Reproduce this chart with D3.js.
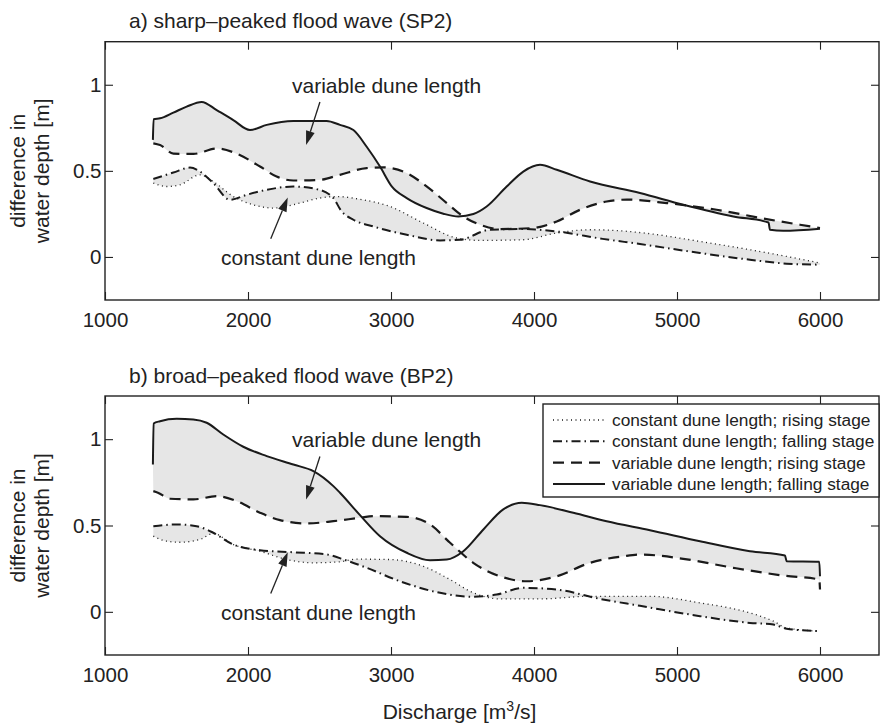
<!DOCTYPE html>
<html>
<head>
<meta charset="utf-8">
<script src="https://cdn.jsdelivr.net/npm/d3@7"></script>
<style>
  body { margin: 0; background: #fff; }
  svg text { font-family: "Liberation Sans", Arial, Helvetica, sans-serif; fill: #222; }
</style>
</head>
<body>
<svg id="chart" width="880" height="724"></svg>
<script>
// ---- data: [discharge m3/s, difference in water depth m] ----
// a) sharp-peaked flood wave (SP2)
const spVarFall = [[1335,0.68],[1340,0.80],[1385,0.805],[1478,0.838],[1571,0.873],[1676,0.90],[1781,0.853],[1897,0.795],[2014,0.737],[2131,0.767],[2317,0.79],[2550,0.79],[2643,0.767],[2737,0.737],[2830,0.64],[2923,0.525],[3005,0.41],[3110,0.342],[3249,0.284],[3366,0.251],[3471,0.235],[3576,0.249],[3669,0.293],[3809,0.409],[3925,0.496],[4042,0.535],[4159,0.506],[4392,0.438],[4741,0.371],[5044,0.303],[5394,0.235],[5640,0.20],[5650,0.158],[5743,0.152],[6000,0.164]];
const spVarRise = [[1338,0.66],[1385,0.65],[1478,0.60],[1618,0.598],[1781,0.63],[1921,0.60],[2084,0.525],[2200,0.467],[2317,0.444],[2503,0.448],[2643,0.477],[2830,0.516],[2946,0.52],[3110,0.487],[3249,0.41],[3390,0.313],[3506,0.235],[3622,0.187],[3762,0.162],[3995,0.168],[4159,0.206],[4322,0.274],[4508,0.322],[4650,0.333],[4928,0.313],[5277,0.274],[5627,0.22],[5860,0.187],[6000,0.168]];
const spConFall = [[1338,0.453],[1478,0.49],[1594,0.519],[1664,0.496],[1757,0.429],[1874,0.332],[1991,0.361],[2131,0.39],[2317,0.409],[2480,0.394],[2597,0.342],[2650,0.27],[2737,0.216],[2876,0.177],[3110,0.129],[3343,0.096],[3483,0.10],[3692,0.158],[3925,0.162],[4159,0.148],[4480,0.105],[4741,0.075],[5161,0.023],[5510,-0.016],[5767,-0.039],[6000,-0.045]];
const spConRise = [[1338,0.429],[1431,0.409],[1524,0.419],[1664,0.477],[1757,0.438],[1897,0.351],[2037,0.303],[2177,0.284],[2364,0.313],[2503,0.342],[2620,0.351],[2783,0.335],[2993,0.293],[3226,0.197],[3459,0.11],[3622,0.096],[3925,0.10],[4159,0.139],[4392,0.158],[4600,0.152],[4811,0.135],[5161,0.09],[5510,0.042],[5767,0.003],[6000,-0.035]];

// b) broad-peaked flood wave (BP2)
const bpVarFall = [[1335,0.853],[1340,1.091],[1385,1.104],[1501,1.118],[1618,1.114],[1711,1.095],[1827,1.027],[1967,0.956],[2131,0.902],[2317,0.853],[2457,0.815],[2597,0.728],[2643,0.69],[2783,0.56],[2923,0.438],[3110,0.342],[3273,0.299],[3390,0.303],[3506,0.351],[3646,0.477],[3785,0.593],[3914,0.632],[4042,0.618],[4275,0.574],[4508,0.525],[4811,0.473],[5161,0.409],[5510,0.351],[5755,0.326],[5767,0.293],[5995,0.29],[6000,0.206]];
const bpVarRise = [[1338,0.699],[1370,0.69],[1455,0.655],[1618,0.651],[1781,0.67],[1921,0.641],[2084,0.574],[2224,0.531],[2410,0.512],[2597,0.525],[2783,0.545],[2876,0.554],[3110,0.55],[3273,0.506],[3413,0.40],[3575,0.284],[3762,0.206],[3949,0.177],[4159,0.206],[4392,0.284],[4625,0.322],[4741,0.332],[5044,0.307],[5394,0.255],[5744,0.21],[5995,0.187],[6000,0.129]];
const bpConFall = [[1338,0.496],[1501,0.506],[1641,0.496],[1757,0.458],[1897,0.39],[2084,0.357],[2317,0.345],[2550,0.332],[2680,0.30],[2830,0.255],[3063,0.177],[3343,0.11],[3576,0.087],[3739,0.10],[3925,0.139],[4159,0.129],[4462,0.075],[4741,0.035],[5161,-0.025],[5510,-0.064],[5674,-0.074],[5767,-0.098],[6000,-0.112]];
const bpConRise = [[1338,0.438],[1431,0.409],[1524,0.403],[1664,0.419],[1757,0.454],[1897,0.39],[2084,0.351],[2270,0.303],[2457,0.284],[2643,0.29],[2760,0.305],[2993,0.303],[3226,0.264],[3413,0.187],[3576,0.11],[3762,0.075],[4042,0.075],[4392,0.09],[4811,0.09],[5161,0.052],[5510,-0.006],[5674,-0.054],[5767,-0.093],[6000,-0.112]];

const xTicks = [1000, 2000, 3000, 4000, 5000, 6000];
const yTicks = [0, 0.5, 1];
const legendLabels = [
  'constant dune length; rising stage',
  'constant dune length; falling stage',
  'variable dune length; rising stage',
  'variable dune length; falling stage'
];

// ---- layout ----
const svg = d3.select('#chart');
const left = 105, right = 879;
const x = d3.scaleLinear().domain([1000, 6000]).range([left, 820]);

const styles = {
  conRise: { width: 1.3, dash: '1 3.5' },
  conFall: { width: 2.0, dash: '9 4 1.5 4' },
  varRise: { width: 2.2, dash: '11 7' },
  varFall: { width: 2.0, dash: null }
};

const panels = [
  { top: 41.7, bottom: 300, title: 'a) sharp\u2013peaked flood wave (SP2)',
    series: { varFall: spVarFall, varRise: spVarRise, conFall: spConFall, conRise: spConRise }, legend: false },
  { top: 396, bottom: 655, title: 'b) broad\u2013peaked flood wave (BP2)',
    series: { varFall: bpVarFall, varRise: bpVarRise, conFall: bpConFall, conRise: bpConRise }, legend: true }
];

function arrow(g, x0, y0, x1, y1) {
  const a = Math.atan2(y1 - y0, x1 - x0), L = 14, w = 4.5;
  const bx = x1 - L * Math.cos(a), by = y1 - L * Math.sin(a);
  g.append('line').attr('x1', x0).attr('y1', y0).attr('x2', bx).attr('y2', by)
    .attr('stroke', '#222').attr('stroke-width', 1.3);
  g.append('path')
    .attr('d', `M${x1},${y1}L${bx + w * Math.sin(a)},${by - w * Math.cos(a)}L${bx - w * Math.sin(a)},${by + w * Math.cos(a)}Z`)
    .attr('fill', '#222');
}

panels.forEach(p => {
  const y = d3.scaleLinear().domain([-0.25, 1.25]).range([p.bottom, p.top]);
  const g = svg.append('g');
  const line = d3.line().x(d => x(d[0])).y(d => y(d[1])).curve(d3.curveMonotoneX);

  // grey bands between rising and falling stage
  const band = (a, b) => line(a) + line(b.slice().reverse()).replace(/^M/, 'L') + 'Z';
  g.append('path').attr('d', band(p.series.varFall, p.series.varRise)).attr('fill', '#e6e6e6');
  g.append('path').attr('d', band(p.series.conFall, p.series.conRise)).attr('fill', '#e6e6e6');

  ['conRise', 'conFall', 'varRise', 'varFall'].forEach(k => {
    g.append('path').attr('d', line(p.series[k]))
      .attr('fill', 'none').attr('stroke', '#1a1a1a')
      .attr('stroke-width', styles[k].width)
      .attr('stroke-dasharray', styles[k].dash);
  });

  // axes (ticks inside the box)
  const xb = g.append('g').attr('transform', `translate(0,${p.bottom})`)
    .call(d3.axisBottom(x).tickValues(xTicks).tickSize(-8).tickPadding(12).tickFormat(d3.format('d')));
  const xt = g.append('g').attr('transform', `translate(0,${p.top})`)
    .call(d3.axisTop(x).tickValues(xTicks).tickSize(-8).tickFormat(''));
  const yl = g.append('g').attr('transform', `translate(${left},0)`)
    .call(d3.axisLeft(y).tickValues(yTicks).tickSize(-8).tickPadding(3.5).tickFormat(d => d));
  const yr = g.append('g').attr('transform', `translate(${right},0)`)
    .call(d3.axisRight(y).tickValues(yTicks).tickSize(-8).tickFormat(''));
  [xb, xt, yl, yr].forEach(a => {
    a.select('.domain').remove();
    a.selectAll('line').attr('stroke', '#222').attr('stroke-width', 1.1);
    a.selectAll('text').attr('font-size', 20.5).attr('font-family', null).attr('fill', '#222');
  });

  g.append('rect').attr('x', left).attr('y', p.top)
    .attr('width', right - left).attr('height', p.bottom - p.top)
    .attr('fill', 'none').attr('stroke', '#222').attr('stroke-width', 1.4);

  g.append('text').attr('x', 129).attr('y', p.top - 13.4).attr('font-size', 21).text(p.title);

  // y label
  const my = (p.top + p.bottom) / 2;
  g.append('text').attr('transform', `translate(25,${my}) rotate(-90)`)
    .attr('text-anchor', 'middle').attr('font-size', 21).text('difference in');
  g.append('text').attr('transform', `translate(48.5,${my}) rotate(-90)`)
    .attr('text-anchor', 'middle').attr('font-size', 21).text('water depth [m]');

  // annotations
  g.append('text').attr('x', x(2308)).attr('y', y(0.952)).attr('font-size', 21).text('variable dune length');
  arrow(g, x(2503), y(0.90), x(2406), y(0.65));
  g.append('text').attr('x', x(1811)).attr('y', y(-0.045)).attr('font-size', 21).text('constant dune length');
  arrow(g, x(2159), y(0.106), x(2278), y(0.345));

  if (p.legend) {
    const lg = g.append('g');
    lg.append('rect').attr('x', 543).attr('y', 404).attr('width', right - 543).attr('height', 93)
      .attr('fill', '#fff').attr('stroke', '#222').attr('stroke-width', 1.4);
    ['conRise', 'conFall', 'varRise', 'varFall'].forEach((k, i) => {
      const ry = 420 + i * 21.3;
      lg.append('line').attr('x1', 553).attr('x2', 605).attr('y1', ry).attr('y2', ry)
        .attr('stroke', '#1a1a1a').attr('stroke-width', styles[k].width)
        .attr('stroke-dasharray', styles[k].dash);
      lg.append('text').attr('x', 612).attr('y', ry).attr('dy', '0.35em')
        .attr('font-size', 17.3).text(legendLabels[i]);
    });
  }
});

// x label
const xl = svg.append('text').attr('x', 459.5).attr('y', 719).attr('text-anchor', 'middle').attr('font-size', 21);
xl.append('tspan').text('Discharge [m');
xl.append('tspan').attr('dy', -8).attr('font-size', 14).text('3');
xl.append('tspan').attr('dy', 8).text('/s]');
</script>
</body>
</html>
